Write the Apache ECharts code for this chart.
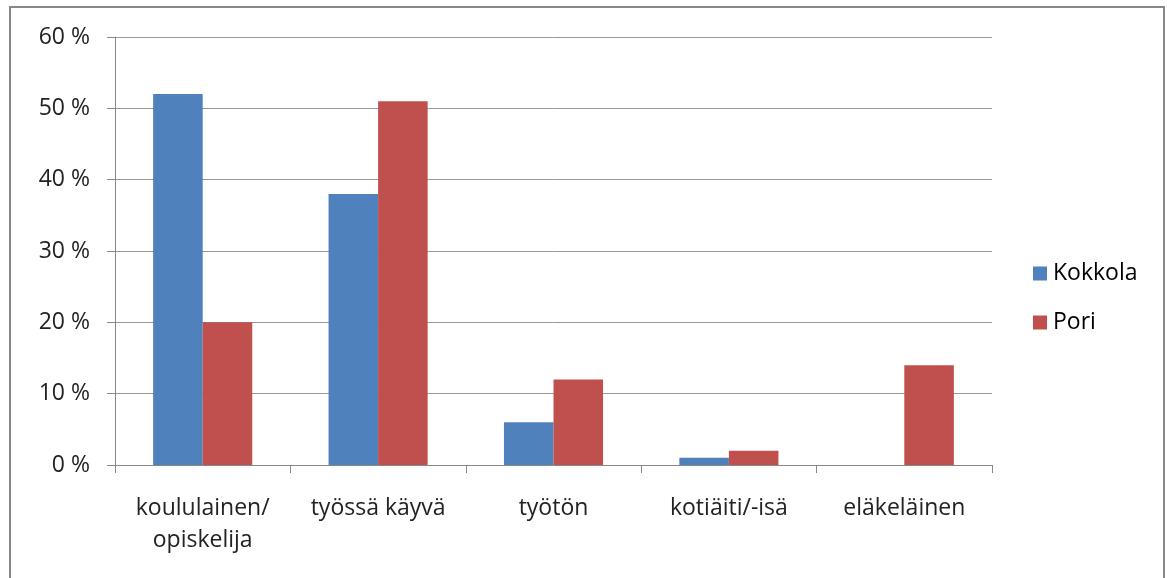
<!DOCTYPE html>
<html>
<head>
<meta charset="utf-8">
<script src="https://cdn.jsdelivr.net/npm/echarts@6/dist/echarts.min.js"></script>
<style>
html,body{margin:0;padding:0;background:#fff;}
#chart{width:1167px;height:578px;}
</style>
</head>
<body>
<div id="chart"></div>
<script>
const categories = ['koululainen/\nopiskelija', 'työssä käyvä', 'työtön', 'kotiäiti/-isä', 'eläkeläinen'];
const kokkola = [52, 38, 6, 1, 0];
const pori = [20, 51, 12, 2, 14];
const seriesNames = ['Kokkola', 'Pori'];
const yTicks = [0, 10, 20, 30, 40, 50, 60];

const FONT = '"Open Sans", Lato, sans-serif';
const chart = echarts.init(document.getElementById('chart'), null, {renderer: 'canvas'});
chart.setOption({
  animation: false,
  backgroundColor: '#fff',
  textStyle: {fontFamily: FONT},
  graphic: [{
    type: 'rect',
    shape: {x: 10, y: 7, width: 1154, height: 600},
    style: {fill: 'none', stroke: '#888', lineWidth: 2},
    silent: true
  }],
  grid: {left: 115, right: 175, top: 37, bottom: 113, containLabel: false},
  legend: {
    orient: 'vertical',
    left: 1033,
    top: 262,
    padding: 0,
    itemWidth: 14,
    itemHeight: 14,
    itemGap: 26,
    icon: 'rect',
    data: seriesNames,
    textStyle: {fontFamily: FONT, fontSize: 23, lineHeight: 20, color: '#000', padding: [0, 0, 0, 1]}
  },
  xAxis: {
    type: 'category',
    data: categories,
    axisLine: {lineStyle: {color: '#888', width: 1}},
    axisTick: {show: true, length: 8, lineStyle: {color: '#888'}},
    axisLabel: {
      fontFamily: FONT, fontSize: 23, color: '#222', margin: 27, lineHeight: 32, interval: 0
    }
  },
  yAxis: {
    type: 'value',
    min: yTicks[0],
    max: yTicks[yTicks.length - 1],
    interval: 10,
    axisLine: {show: true, lineStyle: {color: '#888'}},
    axisTick: {show: true, length: 8, lineStyle: {color: '#888'}},
    splitLine: {lineStyle: {color: '#999', width: 1}},
    axisLabel: {
      fontFamily: FONT, fontSize: 23, color: '#222', margin: 25,
      formatter: v => v + ' %'
    }
  },
  series: [
    {name: seriesNames[0], type: 'bar', data: kokkola, itemStyle: {color: '#4F81BD'}, barGap: '0%', barCategoryGap: '43.5%'},
    {name: seriesNames[1], type: 'bar', data: pori, itemStyle: {color: '#C0504D'}, barGap: '0%', barCategoryGap: '43.5%'}
  ]
});
</script>
</body>
</html>
